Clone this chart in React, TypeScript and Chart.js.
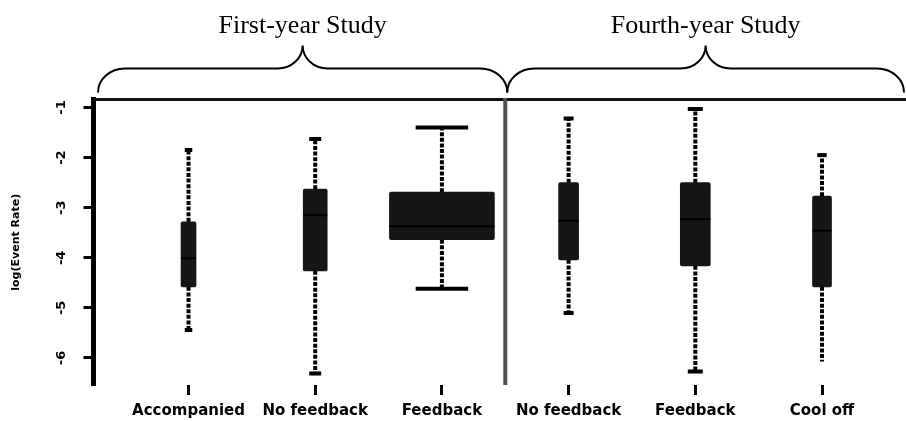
import React, { useEffect, useRef } from 'react';
import { Chart, registerables } from 'chart.js';

Chart.register(...registerables);

// ---- data ----
const CATEGORIES = ['Accompanied', 'No feedback', 'Feedback', 'No feedback', 'Feedback', 'Cool off'];
const GROUP_LABELS = ['First-year Study', 'Fourth-year Study'];
const GROUP_SIZES = [3, 3];
const WHISKER_HIGH = [-1.85, -1.63, -1.4, -1.22, -1.03, -1.95];
const Q3 = [-3.28, -2.63, -2.69, -2.5, -2.5, -2.77];
const MEDIAN = [-4.01, -3.15, -3.37, -3.26, -3.23, -3.46];
const Q1 = [-4.58, -4.26, -3.64, -4.04, -4.16, -4.58];
const WHISKER_LOW = [-5.44, -6.31, -4.62, -5.1, -6.27, -6.07];
const Y_TICKS = [-1, -2, -3, -4, -5, -6];

// ---- axis ranges / styles ----
const X_MIN = -0.75;
const X_MAX = 5.663;
const Y_MIN = -6.539;
const Y_MAX = -0.84;
const BOX_WIDTHS = [15, 24, 105, 20, 30, 19];
const LOWER_CAP = [true, true, true, true, true, false];
const BOX_COLOR = '#161616';
const LABEL_FONT = 'DejaVu Sans';

function drawBrace(ctx: CanvasRenderingContext2D, x0: number, x1: number, yEnd: number, yBar: number, yTip: number) {
  const tip = (x0 + x1) / 2;
  const re = 27;
  const rt = 25;
  const k = 0.5523;
  const hEnd = yEnd - yBar;
  const hTip = yBar - yTip;
  ctx.beginPath();
  ctx.moveTo(x0, yEnd);
  ctx.bezierCurveTo(x0, yEnd - hEnd * k, x0 + re - re * k, yBar, x0 + re, yBar);
  ctx.lineTo(tip - rt, yBar);
  ctx.bezierCurveTo(tip - rt + rt * k, yBar, tip, yTip + hTip * k, tip, yTip);
  ctx.bezierCurveTo(tip, yTip + hTip * k, tip + rt - rt * k, yBar, tip + rt, yBar);
  ctx.lineTo(x1 - re, yBar);
  ctx.bezierCurveTo(x1 - re + re * k, yBar, x1, yEnd - hEnd * k, x1, yEnd);
  ctx.stroke();
}

const decorPlugin = {
  id: 'boxDecor',
  afterDatasetsDraw(chart: any) {
    const { ctx, scales } = chart;
    const xs = scales.x;
    const ys = scales.y;
    ctx.save();
    ctx.strokeStyle = '#000';
    ctx.lineCap = 'butt';
    CATEGORIES.forEach((_, i) => {
      const xp = xs.getPixelForValue(i);
      const w = BOX_WIDTHS[i];
      const yQ3 = ys.getPixelForValue(Q3[i]);
      const yQ1 = ys.getPixelForValue(Q1[i]);
      const yHi = ys.getPixelForValue(WHISKER_HIGH[i]);
      const yLo = ys.getPixelForValue(WHISKER_LOW[i]);
      const yMed = ys.getPixelForValue(MEDIAN[i]);
      // whiskers
      ctx.lineWidth = 4;
      ctx.setLineDash([4, 1.6]);
      ctx.beginPath();
      ctx.moveTo(xp, yQ3);
      ctx.lineTo(xp, yHi);
      ctx.moveTo(xp, yQ1);
      ctx.lineTo(xp, yLo);
      ctx.stroke();
      // caps
      ctx.setLineDash([]);
      ctx.lineWidth = 4;
      ctx.beginPath();
      ctx.moveTo(xp - w / 4, yHi);
      ctx.lineTo(xp + w / 4, yHi);
      if (LOWER_CAP[i]) {
        ctx.moveTo(xp - w / 4, yLo);
        ctx.lineTo(xp + w / 4, yLo);
      }
      ctx.stroke();
      // median
      ctx.lineWidth = 2;
      ctx.beginPath();
      ctx.moveTo(xp - w / 2, yMed);
      ctx.lineTo(xp + w / 2, yMed);
      ctx.stroke();
    });
    ctx.restore();
  },
  afterDraw(chart: any) {
    const { ctx, chartArea, scales } = chart;
    const xs = scales.x;
    ctx.save();
    // top frame line
    ctx.strokeStyle = '#111';
    ctx.lineWidth = 3;
    ctx.beginPath();
    ctx.moveTo(chartArea.left, chartArea.top);
    ctx.lineTo(chartArea.right, chartArea.top);
    ctx.stroke();
    // divider between studies
    const divX = xs.getPixelForValue(GROUP_SIZES[0] - 0.5);
    ctx.strokeStyle = '#505050';
    ctx.lineWidth = 4;
    ctx.beginPath();
    ctx.moveTo(divX, chartArea.top - 1.5);
    ctx.lineTo(divX, chartArea.bottom);
    ctx.stroke();
    // braces and group titles
    const spans = [
      [chartArea.left + 4.5, divX + 2],
      [divX + 2, chartArea.right - 2],
    ];
    const yEnd = chartArea.top - 7;
    const yBar = chartArea.top - 31;
    const yTip = chartArea.top - 54;
    ctx.strokeStyle = '#000';
    ctx.lineWidth = 2;
    ctx.fillStyle = '#000';
    ctx.font = '26px "Liberation Serif"';
    ctx.textAlign = 'center';
    ctx.textBaseline = 'alphabetic';
    spans.forEach(([a, b], gi) => {
      drawBrace(ctx, a, b, yEnd, yBar, yTip);
      ctx.fillText(GROUP_LABELS[gi], (a + b) / 2, chartArea.top - 66.5);
    });
    ctx.restore();
  },
};

export default function App() {
  const canvasRef = useRef<HTMLCanvasElement | null>(null);

  useEffect(() => {
    const canvas = canvasRef.current;
    if (!canvas) return;
    const datasets = CATEGORIES.map((c, i) => ({
      type: 'bar' as const,
      label: c,
      data: [{ x: i, y: [Q1[i], Q3[i]] }],
      backgroundColor: BOX_COLOR,
      borderWidth: 0,
      borderRadius: 2,
      borderSkipped: false,
      barThickness: BOX_WIDTHS[i],
      grouped: false,
    }));

    const chart = new Chart(canvas, {
      type: 'bar',
      data: { datasets: datasets as any },
      options: {
        responsive: false,
        animation: false,
        devicePixelRatio: 1,
        layout: { padding: { top: 99.5, left: 0, right: 0, bottom: 0 } },
        plugins: {
          legend: { display: false },
          tooltip: { enabled: false },
          title: { display: false },
        },
        scales: {
          x: {
            type: 'linear',
            min: X_MIN,
            max: X_MAX,
            offset: false,
            afterBuildTicks: (s: any) => {
              s.ticks = CATEGORIES.map((_, i) => ({ value: i }));
            },
            afterFit: (s: any) => {
              s.height = 36;
            },
            grid: {
              display: true,
              drawOnChartArea: false,
              drawTicks: true,
              tickLength: 10,
              tickWidth: 3,
              tickColor: '#000',
              offset: false,
            },
            border: { display: false },
            ticks: {
              autoSkip: false,
              maxRotation: 0,
              minRotation: 0,
              padding: 7,
              color: '#000',
              font: { family: LABEL_FONT, weight: 'bold', size: 15 },
              callback: (v: any) => CATEGORIES[Number(v)] ?? '',
            },
          },
          y: {
            type: 'linear',
            min: Y_MIN,
            max: Y_MAX,
            afterBuildTicks: (s: any) => {
              s.ticks = Y_TICKS.map((v) => ({ value: v }));
            },
            afterFit: (s: any) => {
              s.width = 93.5;
            },
            grid: {
              display: true,
              drawOnChartArea: false,
              drawTicks: true,
              tickLength: 10,
              tickWidth: 3,
              tickColor: '#000',
            },
            border: { display: true, width: 5, color: '#000' },
            ticks: {
              autoSkip: false,
              minRotation: 90,
              maxRotation: 90,
              crossAlign: 'center',
              padding: 15,
              color: '#000',
              font: { family: LABEL_FONT, weight: 'bold', size: 13 },
              callback: (v: any) => String(v),
            },
            title: {
              display: true,
              text: 'log(Event Rate)',
              color: '#000',
              font: { family: LABEL_FONT, weight: 'bold', size: 11 },
              padding: { top: 9.5, bottom: 0 },
            },
          },
        },
      } as any,
      plugins: [decorPlugin],
    });
    return () => chart.destroy();
  }, []);

  return (
    <div style={{ position: 'fixed', left: 0, top: 0, width: 906, height: 421, background: '#fff' }}>
      <canvas ref={canvasRef} width={906} height={421} style={{ display: 'block', width: 906, height: 421 }} />
    </div>
  );
}
